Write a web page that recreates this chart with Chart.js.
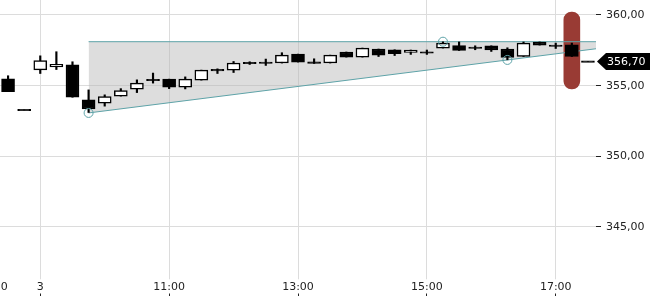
<!DOCTYPE html>
<html>
<head>
<meta charset="utf-8">
<script src="https://cdn.jsdelivr.net/npm/chart.js@4.4.0/dist/chart.umd.min.js"></script>
<style>
  html, body { margin: 0; padding: 0; background: #fff; }
  #wrap { width: 650px; height: 300px; }
</style>
</head>
<body>
<div id="wrap"><canvas id="chart"></canvas></div>
<script>
// 15 minute candles; slot index = position on the x axis
const times = ['17:15', '17:30',
  '09:00', '09:15', '09:30', '09:45', '10:00', '10:15', '10:30', '10:45',
  '11:00', '11:15', '11:30', '11:45', '12:00', '12:15', '12:30', '12:45',
  '13:00', '13:15', '13:30', '13:45', '14:00', '14:15', '14:30', '14:45',
  '15:00', '15:15', '15:30', '15:45', '16:00', '16:15', '16:30', '16:45',
  '17:00', '17:15', '17:30'];
const opens  = [355.48, 353.28, 356.12, 356.33, 356.48, 353.99, 353.76, 354.26, 354.75, 355.44,
  355.46, 354.89, 355.39, 356.10, 356.10, 356.60, 356.67, 356.60, 357.23, 356.69,
  356.60, 357.38, 357.02, 357.59, 357.54, 357.35, 357.35, 357.66, 357.84, 357.68,
  357.82, 357.59, 357.06, 358.09, 357.82, 357.89, 356.70];
const highs  = [355.70, 353.28, 357.11, 357.40, 356.69, 354.70, 354.35, 354.79, 355.41, 355.89,
  355.46, 355.62, 356.10, 356.19, 356.71, 356.69, 356.88, 357.33, 357.23, 356.90,
  357.16, 357.38, 357.66, 357.59, 357.54, 357.52, 357.52, 358.10, 358.09, 357.82,
  357.82, 357.68, 358.09, 358.09, 358.01, 358.01, 356.70];
const lows   = [354.58, 353.28, 355.86, 356.14, 354.18, 353.10, 353.55, 354.26, 354.51, 355.18,
  354.79, 354.77, 355.39, 355.86, 355.93, 356.50, 356.43, 356.60, 356.67, 356.57,
  356.60, 357.02, 357.02, 357.06, 357.13, 357.21, 357.21, 357.66, 357.49, 357.54,
  357.42, 356.83, 357.06, 357.87, 357.63, 357.06, 356.70];
const closes = [354.58, 353.28, 356.78, 356.50, 354.18, 353.35, 354.23, 354.65, 355.18, 355.36,
  354.89, 355.46, 356.10, 356.10, 356.60, 356.60, 356.57, 357.16, 356.67, 356.57,
  357.16, 357.02, 357.66, 357.16, 357.26, 357.52, 357.35, 358.01, 357.49, 357.68,
  357.52, 356.99, 358.01, 357.87, 357.82, 357.06, 356.70];

// x ticks (slot index) and their labels
const xTickPos = [-1, 2, 10, 18, 26, 34];
const xTickLabels = ['17:00', '3', '11:00', '13:00', '15:00', '17:00'];
const yTicks = [345, 350, 355, 360];

// triangle pattern
const triX = [5, 36.5];
const triUpperY = [358.11, 358.11];
const triLowerY = [353.07, 357.61];
const touchX = [5, 27, 31];
const touchY = [353.07, 358.11, 356.82];

// highlighted bar + last price
const highlightSlot = 35;
const highlightRange = [354.76, 360.21];
const lastPrice = 356.70;

const teal = '#5ea3a8';
const font = { family: 'DejaVu Sans', size: 11 };

const wickData = times.map((t, i) => ({ x: i, y: [lows[i], highs[i]] }));
const bodyData = times.map((t, i) => {
  let a = opens[i], b = closes[i];
  if (Math.abs(a - b) < 0.08) { const m = (a + b) / 2; a = m - 0.05; b = m + 0.05; }
  return { x: i, y: [a, b] };
});
const bodyFill = times.map((t, i) => closes[i] - opens[i] > 0.08 ? '#fff' : '#000');

const priceTag = {
  id: 'priceTag',
  afterDraw(chart) {
    const c = chart.ctx, y = chart.scales.y.getPixelForValue(lastPrice);
    const x0 = chart.chartArea.right + 1;
    c.save();
    c.fillStyle = '#000';
    c.beginPath();
    c.moveTo(x0, y);
    c.lineTo(x0 + 9, y - 8.5);
    c.lineTo(650, y - 8.5);
    c.lineTo(650, y + 8.5);
    c.lineTo(x0 + 9, y + 8.5);
    c.closePath();
    c.fill();
    c.fillStyle = '#fff';
    c.font = '11px "DejaVu Sans"';
    c.textBaseline = 'middle';
    c.fillText(lastPrice.toFixed(2).replace('.', ','), 607, y + 0.5);
    c.restore();
  }
};

new Chart(document.getElementById('chart'), {
  type: 'bar',
  data: {
    datasets: [
      { type: 'line', data: triX.map((x, i) => ({ x: x, y: triUpperY[i] })),
        borderColor: teal, borderWidth: 1, pointRadius: 0, fill: false, order: 5 },
      { type: 'line', data: triX.map((x, i) => ({ x: x, y: triLowerY[i] })),
        borderColor: teal, borderWidth: 1, pointRadius: 0, fill: false, order: 5 },
      { type: 'line', data: triX.map((x, i) => ({ x: x, y: triLowerY[i] })),
        borderWidth: 0, pointRadius: 0, fill: { target: 0 },
        backgroundColor: 'rgba(180,180,180,0.45)', order: 10 },
      { data: [{ x: highlightSlot, y: highlightRange }], backgroundColor: '#993b34',
        barThickness: 16, borderRadius: 8, borderSkipped: false, grouped: false, order: 9 },
      { data: wickData, backgroundColor: '#000', barThickness: 1.5, grouped: false, order: 4 },
      { data: bodyData, backgroundColor: bodyFill, borderColor: '#000', borderWidth: 1.5,
        borderSkipped: false, barThickness: 13, grouped: false, order: 3 },
      { type: 'line', data: touchX.map((x, i) => ({ x: x, y: touchY[i] })), showLine: false,
        pointRadius: 4.5, pointBorderColor: teal, pointBackgroundColor: 'rgba(0,0,0,0)',
        pointBorderWidth: 1, order: 1 }
    ]
  },
  options: {
    responsive: true,
    maintainAspectRatio: false,
    animation: false,
    layout: { padding: 0, autoPadding: false },
    plugins: { legend: { display: false }, tooltip: { enabled: false } },
    scales: {
      x: {
        type: 'linear', min: -0.5, max: 36.5, offset: false,
        grid: { color: '#dcdcdc', tickColor: '#222', tickLength: 4, offset: false },
        border: { display: false },
        ticks: { autoSkip: false, maxRotation: 0, mirror: true, padding: -1.5,
          showLabelBackdrop: true, backdropColor: '#fff', backdropPadding: { top: 1, bottom: 0, left: 1, right: 1 },
          font: font, color: '#222',
          callback: (v, i) => xTickLabels[i] },
        afterBuildTicks: s => { s.ticks = xTickPos.map(v => ({ value: v })); },
        afterFit: s => { s.height = 8; s.paddingLeft = 0; s.paddingRight = 0; }
      },
      y: {
        position: 'right', min: 340.40, max: 361.06,
        grid: { color: '#dcdcdc', tickColor: '#222', tickLength: 5 },
        border: { display: false },
        ticks: { padding: 5, font: font, color: '#222',
          callback: v => v.toFixed(2).replace('.', ',') },
        afterBuildTicks: s => { s.ticks = yTicks.map(v => ({ value: v })); },
        afterFit: s => { s.width = 54; s.paddingTop = 0; s.paddingBottom = 0; }
      }
    }
  },
  plugins: [priceTag]
});
</script>
</body>
</html>
